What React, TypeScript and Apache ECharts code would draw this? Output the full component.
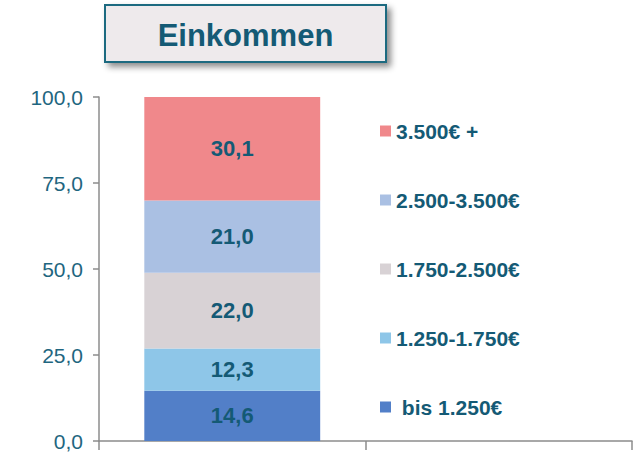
import React, { useEffect, useRef } from "react";
import * as echarts from "echarts";

const categories = ["Einkommen", ""];
const seriesNames = [" bis 1.250€", "1.250-1.750€", "1.750-2.500€", "2.500-3.500€", "3.500€ +"];
const seriesValues = [14.6, 12.3, 22.0, 21.0, 30.1];
const seriesColors = ["#527FC8", "#8EC6E8", "#D8D2D5", "#AAC0E3", "#F0888B"];
const yTicks = { min: 0, max: 100, interval: 25 };
const titleText = "Einkommen";

const fmt = (v: number) => v.toFixed(1).replace(".", ",");

export default function App() {
  const ref = useRef<HTMLDivElement>(null);
  useEffect(() => {
    if (!ref.current) return;
    const chart = echarts.init(ref.current, null, { renderer: "svg" });
    const font = "'Liberation Sans', Arial, sans-serif";
    const dark = "#145A75";
    chart.setOption({
      animation: false,
      textStyle: { fontFamily: font },
      graphic: [
        {
          type: "rect",
          shape: { x: 105, y: 5, width: 281, height: 57 },
          style: {
            fill: "#EEEAEC",
            stroke: "#1E6A80",
            lineWidth: 2,
            shadowBlur: 6,
            shadowOffsetX: 4,
            shadowOffsetY: 4,
            shadowColor: "rgba(0,0,0,0.45)",
          },
          z: 10,
        },
        {
          type: "text",
          x: 245.5,
          y: 35,
          style: {
            text: titleText,
            fill: dark,
            font: `bold 31px ${font}`,
            textAlign: "center",
            textVerticalAlign: "middle",
          },
          z: 11,
        },
      ],
      grid: { left: 99, right: 4, top: 97, bottom: 11, containLabel: false },
      legend: {
        orient: "vertical",
        left: 375,
        top: 115,
        icon: "rect",
        itemWidth: 11,
        itemHeight: 11,
        itemGap: 47,
        data: [...seriesNames].reverse(),
        textStyle: {
          color: dark,
          fontWeight: "bold",
          fontSize: 21,
          lineHeight: 22,
          fontFamily: font,
        },
        selectedMode: false,
      },
      xAxis: {
        type: "category",
        data: categories,
        boundaryGap: true,
        axisLine: { lineStyle: { color: "#8C8C8C", width: 1.5 } },
        axisTick: { show: true, length: 9, lineStyle: { color: "#8C8C8C", width: 1.5 } },
        axisLabel: { show: false },
      },
      yAxis: {
        type: "value",
        min: yTicks.min,
        max: yTicks.max,
        interval: yTicks.interval,
        axisLine: { show: true, lineStyle: { color: "#8C8C8C", width: 1.5 } },
        axisTick: { show: true, length: 6, lineStyle: { color: "#8C8C8C", width: 1.5 } },
        splitLine: { show: false },
        axisLabel: {
          margin: 16,
          color: "#1F6680",
          fontSize: 21,
          fontFamily: font,
          formatter: (v: number) => fmt(v),
        },
      },
      series: seriesNames.map((name, i) => ({
        name,
        type: "bar",
        stack: "total",
        barWidth: "66%",
        data: [seriesValues[i], "-"],
        itemStyle: { color: seriesColors[i] },
        label: {
          show: true,
          position: "inside",
          color: dark,
          fontWeight: "bold",
          fontSize: 22,
          fontFamily: font,
          formatter: (p: any) => fmt(p.value),
        },
      })),
    });
    return () => chart.dispose();
  }, []);
  return (
    <div
      ref={ref}
      style={{ position: "fixed", left: 0, top: 0, width: 636, height: 452, background: "#fff" }}
    />
  );
}
